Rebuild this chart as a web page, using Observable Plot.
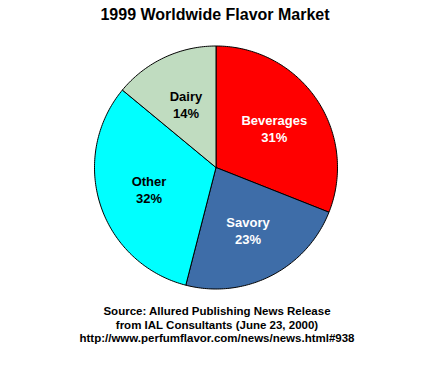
<!DOCTYPE html>
<html>
<head>
<meta charset="utf-8">
<script src="https://cdn.jsdelivr.net/npm/d3@7"></script>
<script src="https://cdn.jsdelivr.net/npm/@observablehq/plot@0.6"></script>
<style>
  html, body { margin: 0; padding: 0; background: #fff; }
  #wrap { position: relative; width: 428px; height: 365px; font-family: "Liberation Sans", Arial, sans-serif; }
  #title { position: absolute; left: 0; top: 5px; width: 430px; text-align: center; font-size: 16px; font-weight: bold; line-height: 20px; color: #000; }
  #chart { position: absolute; left: 0; top: 30px; }
  #caption { position: absolute; left: 0; top: 305px; width: 434px; text-align: center; font-size: 11.5px; font-weight: bold; line-height: 13.5px; color: #000; }
</style>
</head>
<body>
<div id="wrap">
  <div id="title">1999 Worldwide Flavor Market</div>
  <div id="chart"></div>
  <div id="caption">Source: Allured Publishing News Release<br>from IAL Consultants (June 23, 2000)<br>http://www.perfumflavor.com/news/news.html#938</div>
</div>
<script>
const categories = ["Beverages", "Savory", "Other", "Dairy"];
const shares = [31, 23, 32, 14];
const percentLabels = ["31%", "23%", "32%", "14%"];
const sliceColors = ["#FF0000", "#3E6DA8", "#00FFFF", "#C0DCC0"];
const labelColors = ["white", "white", "black", "black"];

// Build slice polygons (unit radius, clockwise from 12 o'clock)
const total = d3.sum(shares);
const polys = [];
const labels = [];
let acc = 0;
categories.forEach((name, i) => {
  const a0 = acc / total * 2 * Math.PI;
  acc += shares[i];
  const a1 = acc / total * 2 * Math.PI;
  polys.push({name, x: 0, y: 0});
  const n = Math.max(2, Math.ceil((a1 - a0) / (Math.PI / 180)));
  for (let k = 0; k <= n; k++) {
    const a = a0 + (a1 - a0) * k / n;
    polys.push({name, x: Math.sin(a), y: Math.cos(a)});
  }
  polys.push({name, x: 0, y: 0});
  const am = (a0 + a1) / 2;
  const lr = 0.58;
  labels.push({text: name + "\n" + percentLabels[i], x: lr * Math.sin(am), y: lr * Math.cos(am), color: labelColors[i]});
});

const R = 121.5; // pixels per unit radius
const W = 428, H = 270;
const chart = Plot.plot({
  width: W,
  height: H,
  margin: 0,
  x: {domain: [-215.5 / R, (W - 215.5) / R], axis: null},
  y: {domain: [-(H - 137) / R, 137 / R], axis: null},
  color: {domain: categories, range: sliceColors},
  style: {fontFamily: "'Liberation Sans', Arial, sans-serif", background: "white"},
  marks: [
    Plot.line(polys, {x: "x", y: "y", z: "name", fill: "name", stroke: "black", strokeWidth: 1, strokeLinejoin: "round"}),
    Plot.text(labels.filter(d => d.color === "white"), {x: "x", y: "y", text: "text", fill: "white", fontSize: 13, fontWeight: "bold", lineHeight: 1.32, lineAnchor: "middle"}),
    Plot.text(labels.filter(d => d.color === "black"), {x: "x", y: "y", text: "text", fill: "black", fontSize: 13, fontWeight: "bold", lineHeight: 1.32, lineAnchor: "middle"})
  ]
});
document.getElementById("chart").appendChild(chart);
</script>
</body>
</html>
